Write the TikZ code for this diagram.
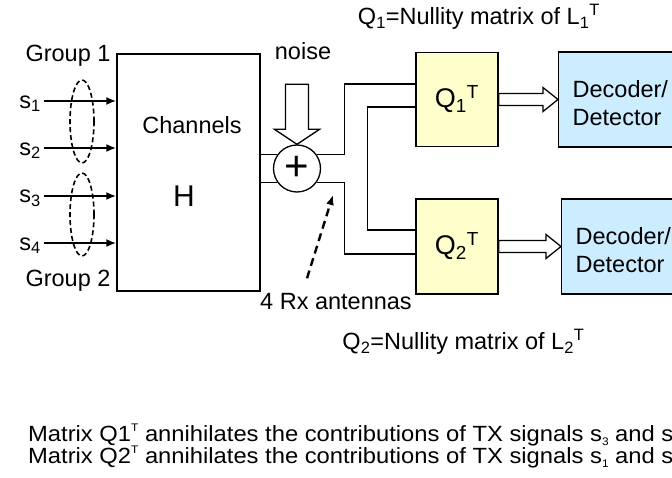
\documentclass[tikz,border=0pt]{standalone}
\usepackage{fontspec}
\setmainfont{Liberation Sans}
\newfontfamily\notefont{Liberation Sans}[FakeStretch=1.08]
\usetikzlibrary{positioning,arrows.meta,shapes.geometric}
\definecolor{qfill}{HTML}{FFFFCC}
\definecolor{decfill}{HTML}{CCECFF}
% hollow block arrow from the east side of #1 to the west side of #2
\newcommand{\hollowarrow}[2]{%
  \draw[line width=1.3pt, fill=white] ([yshift=6pt]#1.east) -- ([xshift=-15pt,yshift=6pt]#2.west)
    -- ([xshift=-15pt,yshift=12pt]#2.west) -- (#2.west)
    -- ([xshift=-15pt,yshift=-12pt]#2.west) -- ([xshift=-15pt,yshift=-6pt]#2.west)
    -- ([yshift=-6pt]#1.east) -- cycle;}
% small raised / lowered marks for the note lines
\newcommand{\notesup}[1]{\raisebox{0.45em}{\fontsize{11}{11}\selectfont #1}}
\newcommand{\notesub}[1]{\raisebox{-0.2em}{\fontsize{11}{11}\selectfont #1}}

\begin{document}
\begin{tikzpicture}[x=1pt, y=-1pt, >=Latex, font=\fontsize{23.5}{28}\selectfont]
      \tikzstyle{blk}=[draw, line width=1.3pt, inner sep=0pt]
      \tikzstyle{wire}=[line width=1.3pt]
      \tikzstyle{sig}=[->, line width=2.4pt, >={Latex[length=10pt,width=8pt]}]
      \tikzstyle{grp}=[draw, ellipse, line width=1.6pt, dash pattern=on 5pt off 3pt, minimum width=24pt, minimum height=83pt, inner sep=0pt]
      \tikzstyle{dec}=[blk, fill=decfill, minimum height=95pt, text width=130pt, align=left, inner xsep=14pt]
      \tikzstyle{note}=[anchor=base west, inner sep=0pt, font=\notefont\fontsize{22}{22}\selectfont]
      \useasboundingbox (0,0) rectangle (672,478);
      \clip (0,0) rectangle (672,478);
      % channel block and inputs
      \node[blk, minimum width=143pt, minimum height=237pt] (ch) at (188.5,172.5) {};
      \node (chname) at (192,125) {Channels};
      \node[font=\fontsize{30}{30}\selectfont] (hmat) at (184,196) {H};
      \node (grp1) at (68,56) {Group 1};
      \node (grp2) at (68,281) {Group 2};
      \foreach \i/\y in {1/101,2/148,3/196,4/243}{
        \node[anchor=east, inner sep=1pt] (s\i) at (42,\y+2.6) {s\textsubscript{\i}};
        \draw[sig] ([yshift=2.6pt,xshift=2pt]s\i.east) -- ([yshift=2.6pt]s\i.east -| ch.west);
      }
      \node[grp] (e1) at (82,121.5) {};
      \node[grp] (e2) at (82,214.5) {};
      % noise and adder
      \node (noise) at (303,51) {noise};
      \node[circle, draw, line width=1.3pt, fill=white, minimum size=47pt, inner sep=0pt, font=\fontsize{42}{42}\selectfont] (sum) at (297,168.5) {+};
      \draw[line width=1.3pt, fill=white] (sum.north) -- ++(-22.5,-15) -- ++(11,0) -- ++(0,-45) -- ++(23,0) -- ++(0,45) -- ++(11,0) -- cycle;
      % projection blocks
      \node[blk, fill=qfill, minimum width=82pt, minimum height=94pt, font=\fontsize{27}{27}\selectfont] (q1) at (457,99.5) {Q\textsubscript{1}\textsuperscript{T}};
      \node[blk, fill=qfill, minimum width=82pt, minimum height=95pt, font=\fontsize{27}{27}\selectfont] (q2) at (457,246.5) {Q\textsubscript{2}\textsuperscript{T}};
      \node[dec, anchor=west] (dec1) at (558,99.5) {\rule{0pt}{25pt}Decoder/\\Detector};
      \node[dec, anchor=west] (dec2) at (561,246.5) {\rule{0pt}{25pt}Decoder/\\Detector};
      % wires
      \draw[wire] (sum.145 -| ch.east) -- (sum.145);
      \draw[wire] (sum.215 -| ch.east) -- (sum.215);
      \draw[wire] (sum.35) -- ++(28,0) |- ([yshift=15.5pt]q1.west);
      \draw[wire] (sum.325) -- ++(28,0) |- ([yshift=-7.5pt]q2.west);
      \draw[wire] ([yshift=-7.5pt]q1.west) -- ++(-48,0) |- ([yshift=16.5pt]q2.west);
      \hollowarrow{q1}{dec1}
      \hollowarrow{q2}{dec2}
      % receive antennas
      \node (rx) at (336,302) {4 Rx antennas};
      \coordinate (rxtip) at (333,195);
      \draw[->, line width=2.4pt, dash pattern=on 8pt off 5pt, >={Latex[length=10pt,width=8pt]}] ([xshift=-29pt,yshift=12pt]rx.north) -- (rxtip);
      % titles
      \node (null1) at (479,17) {Q\textsubscript{1}=Nullity matrix of L\textsubscript{1}\textsuperscript{T}};
      \node (null2) at (463.5,342) {Q\textsubscript{2}=Nullity matrix of L\textsubscript{2}\textsuperscript{T}};
      \node[note] (note1) at (28,441) {Matrix Q1\notesup{T} annihilates the contributions of TX signals s\notesub{3} and s};
      \node[note] (note2) at (28,463) {Matrix Q2\notesup{T} annihilates the contributions of TX signals s\notesub{1} and s};
    \end{tikzpicture}
\end{document}
